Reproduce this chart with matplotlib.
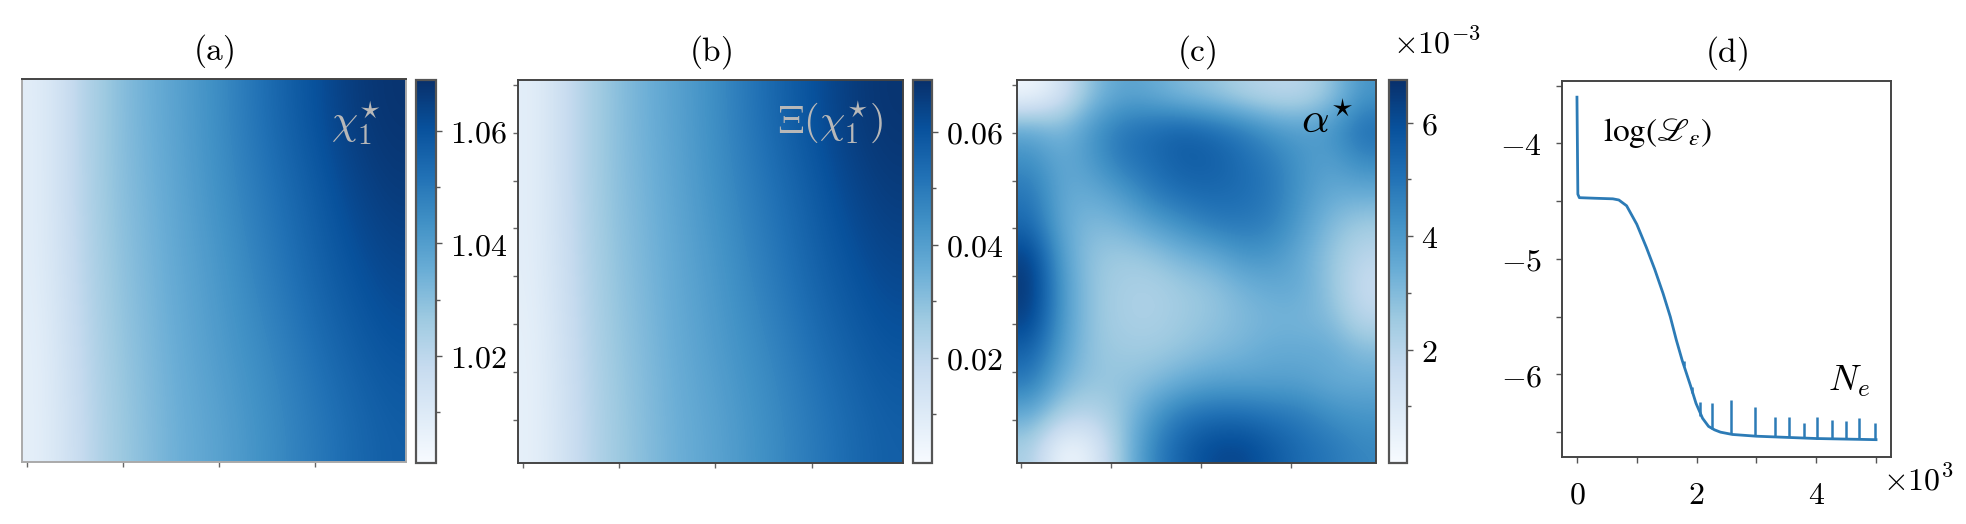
import numpy as np
import matplotlib
matplotlib.use("Agg")
import matplotlib.pyplot as plt
from matplotlib.ticker import FixedLocator, MultipleLocator, FuncFormatter

plt.rcParams['mathtext.fontset'] = 'cm'
plt.rcParams['font.family'] = ['DejaVu Serif']

# ---------------- data ----------------
# (a) chi_1^* field, rows top -> bottom, columns left -> right
chi_grid = np.array([
    [1.008, 1.019, 1.028, 1.034, 1.039, 1.044, 1.050, 1.056, 1.061, 1.066, 1.068],
    [1.008, 1.019, 1.028, 1.033, 1.038, 1.043, 1.048, 1.053, 1.058, 1.063, 1.066],
    [1.008, 1.018, 1.027, 1.032, 1.037, 1.041, 1.046, 1.051, 1.056, 1.060, 1.063],
    [1.007, 1.017, 1.026, 1.031, 1.036, 1.040, 1.044, 1.048, 1.053, 1.057, 1.060],
    [1.007, 1.016, 1.025, 1.030, 1.035, 1.038, 1.042, 1.046, 1.050, 1.054, 1.057],
])
chi_range = [1.001, 1.069]
chi_ticks = [1.02, 1.04, 1.06]
chi_minor = [1.01, 1.03, 1.05]

# (b) Xi(chi_1^*) field
xi_grid = np.array([
    [0.008, 0.019, 0.028, 0.034, 0.039, 0.044, 0.050, 0.056, 0.061, 0.066, 0.068],
    [0.008, 0.019, 0.028, 0.033, 0.038, 0.043, 0.048, 0.053, 0.058, 0.063, 0.066],
    [0.008, 0.018, 0.027, 0.032, 0.037, 0.041, 0.046, 0.051, 0.056, 0.060, 0.063],
    [0.007, 0.017, 0.026, 0.031, 0.036, 0.040, 0.044, 0.048, 0.053, 0.057, 0.060],
    [0.007, 0.016, 0.025, 0.030, 0.035, 0.038, 0.042, 0.046, 0.050, 0.054, 0.057],
])
xi_range = [0.0014, 0.0692]
xi_ticks = [0.02, 0.04, 0.06]
xi_minor = [0.01, 0.03, 0.05]

# (c) alpha^* field in units of 1e-3
alpha_grid = np.array([
    [0.2, 1.2, 2.9, 3.7, 3.5, 3.0, 2.7, 2.2, 1.9, 1.9, 2.7, 4.1],
    [3.5, 3.0, 4.1, 4.9, 5.2, 5.5, 5.2, 4.8, 4.1, 3.8, 4.1, 5.2],
    [4.3, 3.5, 4.0, 4.9, 5.2, 5.6, 5.6, 5.2, 4.8, 4.1, 3.8, 4.5],
    [4.9, 3.5, 3.5, 4.0, 4.8, 5.2, 5.3, 5.2, 4.9, 4.1, 3.5, 3.5],
    [5.3, 3.5, 3.0, 3.2, 3.8, 4.3, 4.8, 4.9, 4.7, 3.9, 3.0, 2.5],
    [6.3, 3.8, 2.7, 2.5, 2.7, 3.2, 3.5, 4.1, 4.1, 3.5, 2.7, 1.9],
    [6.6, 4.0, 2.7, 2.3, 2.2, 2.5, 2.7, 3.2, 3.5, 3.5, 2.7, 1.6],
    [6.3, 4.0, 2.7, 2.3, 2.2, 2.5, 2.7, 3.0, 3.2, 3.2, 3.0, 1.9],
    [5.5, 3.8, 2.7, 2.5, 2.5, 2.7, 3.0, 3.2, 3.5, 3.5, 3.5, 3.0],
    [4.8, 3.2, 2.7, 2.7, 3.0, 3.5, 3.8, 3.8, 3.8, 3.8, 3.5, 3.5],
    [3.5, 2.2, 1.9, 2.7, 4.0, 4.9, 5.2, 5.2, 5.0, 4.8, 4.3, 4.1],
    [2.3, 0.2, 0.7, 2.7, 4.5, 5.5, 6.1, 6.2, 5.7, 5.2, 4.9, 4.5],
])
alpha_range = [0.0, 6.75]
alpha_ticks = [2, 4, 6]
alpha_minor = [1, 3, 5]

# (d) training loss curve
loss_iter = [0, 15, 40, 300, 600, 700, 830, 1000, 1160, 1300, 1440, 1560, 1660,
             1760, 1830, 1900, 1990, 2100, 2200, 2300, 2400, 2600, 3000, 3500,
             4000, 4500, 5000]
loss_log = [-3.60, -4.44, -4.47, -4.475, -4.48, -4.49, -4.54, -4.70, -4.90, -5.09,
            -5.30, -5.50, -5.70, -5.88, -5.99, -6.10, -6.25, -6.38, -6.45, -6.48,
            -6.50, -6.52, -6.535, -6.545, -6.555, -6.56, -6.565]
spike_iter = [1783, 1917, 2061, 2256, 2567, 2975, 3311, 3553, 3803, 4008, 4265, 4494, 4720, 4990]
spike_base = [-5.93, -6.16, -6.36, -6.47, -6.52, -6.535, -6.54, -6.545, -6.55, -6.555,
              -6.555, -6.56, -6.56, -6.565]
spike_peak = [-5.88, -6.11, -6.24, -6.245, -6.22, -6.28, -6.37, -6.365, -6.42, -6.365,
              -6.395, -6.40, -6.38, -6.42]

titles = [r'$\mathrm{(a)}$', r'$\mathrm{(b)}$', r'$\mathrm{(c)}$', r'$\mathrm{(d)}$']

# ---------------- figure ----------------
W, H = 1966, 524
fig = plt.figure(figsize=(W / 200, H / 200), dpi=200)


def box(x0, x1, y0, y1):
    return [x0 / W, 1 - y1 / H, (x1 - x0) / W, (y1 - y0) / H]


ax_a = fig.add_axes(box(22, 406, 79, 462))
cax_a = fig.add_axes(box(416, 436, 80, 463))
ax_b = fig.add_axes(box(518, 903, 80, 463))
cax_b = fig.add_axes(box(913, 932, 80, 463))
ax_c = fig.add_axes(box(1017, 1376, 80, 463))
cax_c = fig.add_axes(box(1389, 1407, 80, 463))
ax_d = fig.add_axes(box(1562, 1891, 81, 457))

TICK_FS = 11.5
SPINE = '#444444'


def heat(ax, cax, grid, vr, major, minor, fmt, title, label, lcolor, lsize, lx, ly):
    im = ax.imshow(grid, cmap='Blues', vmin=vr[0], vmax=vr[1], interpolation='bicubic',
                   extent=(-0.5, 39.5, 39.5, -0.5), aspect='auto')
    ax.set_xticks([0, 10, 20, 30])
    ax.set_yticks(list(range(0, 40, 5)))
    ax.set_xticklabels([])
    ax.set_yticklabels([])
    ax.tick_params(length=1.8, width=0.5, color='#666666')
    for s in ax.spines.values():
        s.set_edgecolor(SPINE)
        s.set_linewidth(0.7)
    ax.set_title(title, fontsize=12, pad=7)
    ax.text(lx, ly, label, transform=ax.transAxes, ha='right', va='top',
            color=lcolor, fontsize=lsize)
    cb = fig.colorbar(im, cax=cax)
    cb.set_ticks(major)
    cax.yaxis.set_minor_locator(FixedLocator(minor))
    cax.yaxis.set_major_formatter(FuncFormatter(fmt))
    cax.tick_params(which='major', length=2.2, width=0.5, labelsize=TICK_FS, pad=3, color='#555555')
    cax.tick_params(which='minor', length=1.6, width=0.5, color='#555555')
    cb.outline.set_edgecolor('#555555')
    cb.outline.set_linewidth(0.8)
    return im


heat(ax_a, cax_a, chi_grid, chi_range, chi_ticks, chi_minor,
     lambda v, p: f'${v:.2f}$', titles[0], r'$\chi_1^{\star}$', '#b8b8b8', 15, 0.935, 0.95)
ax_a.tick_params(left=False)
for side in ['left', 'bottom', 'right']:
    ax_a.spines[side].set_edgecolor('#aaaaaa')

heat(ax_b, cax_b, xi_grid, xi_range, xi_ticks, xi_minor,
     lambda v, p: f'${v:.2f}$', titles[1], r'$\Xi(\chi_1^{\star})$', '#b8b8b8', 14.5, 0.948, 0.95)

heat(ax_c, cax_c, alpha_grid, alpha_range, alpha_ticks, alpha_minor,
     lambda v, p: f'${v:g}$', titles[2], r'$\alpha^{\star}$', 'black', 15.5, 0.938, 0.95)
fig.text(1393 / W, 1 - 53 / H, r'$\times10^{-3}$', fontsize=TICK_FS, ha='left', va='baseline')

# ---------------- (d) ----------------
lc = '#2c7bb6'
ax_d.plot(loss_iter, loss_log, color=lc, lw=1.0, solid_joinstyle='round')
ax_d.vlines(spike_iter, spike_base, spike_peak, color=lc, lw=0.9)
ax_d.set_xlim(-250, 5250)
ax_d.set_ylim(-6.715, -3.46)
ax_d.xaxis.set_major_locator(MultipleLocator(2000))
ax_d.xaxis.set_minor_locator(MultipleLocator(1000))
ax_d.yaxis.set_major_locator(MultipleLocator(1))
ax_d.yaxis.set_minor_locator(MultipleLocator(0.5))
ax_d.xaxis.set_major_formatter(FuncFormatter(lambda v, p: f'${v / 1000:g}$'))
ax_d.yaxis.set_major_formatter(FuncFormatter(lambda v, p: f'${v:g}$'))
ax_d.tick_params(which='both', length=2.2, width=0.5, color='#555555', labelsize=TICK_FS)
ax_d.tick_params(axis='y', which='both', pad=5)
ax_d.tick_params(axis='x', which='both', pad=6)
for s in ax_d.spines.values():
    s.set_edgecolor(SPINE)
    s.set_linewidth(0.7)
ax_d.set_title(titles[3], fontsize=12, pad=7)
ax_d.text(0.125, 0.862, r'$\log(\mathscr{L}_{\varepsilon})$', transform=ax_d.transAxes,
          ha='left', va='center', fontsize=12, math_fontfamily='stix')
ax_d.text(0.81, 0.20, r'$N_e$', transform=ax_d.transAxes, ha='left', va='center', fontsize=13)
ax_d.text(0.976, -0.088, r'$\times10^{3}$', transform=ax_d.transAxes, ha='left',
          va='baseline', fontsize=TICK_FS)

fig.savefig('out.png', dpi=200)
